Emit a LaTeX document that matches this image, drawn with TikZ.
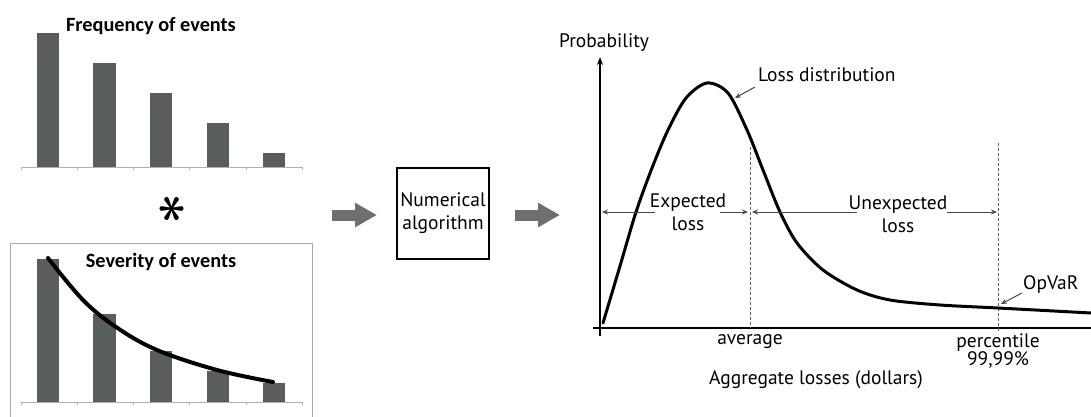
\documentclass[tikz,border=0pt]{standalone}
\usepackage{fontspec}
\usepackage{graphicx}
\setmainfont{PT Sans}
\newfontfamily\calib{Carlito}
\usetikzlibrary{arrows.meta}
\definecolor{barc}{HTML}{595D5D}
\definecolor{axl}{HTML}{B0B0B0}
\definecolor{frame}{HTML}{A8A8A8}
\definecolor{blk}{HTML}{6E6F71}
\definecolor{dim}{HTML}{3C4B52}
\definecolor{dsh}{HTML}{52646E}
\definecolor{salm}{HTML}{F0A898}
\tikzset{
  bar/.style={fill=barc, draw=none},
  lightaxis/.style={draw=axl, line width=0.9pt},
  blockarrow/.style={draw=blk, line width=11pt, -{Triangle[length=22pt,width=23pt]}},
  dimarrow/.style={draw=dim, line width=1pt, -{Stealth[length=6pt,width=5pt]}},
  dashline/.style={draw=dsh, line width=0.9pt, dash pattern=on 3pt off 2pt},
  lbl/.style={font=\fontsize{19.5}{23}\selectfont, inner sep=0pt, align=center},
  ttl/.style={font=\calib\bfseries\fontsize{20.3}{22}\selectfont, inner sep=0pt},
  callout/.style={draw=dim, line width=1pt, -{Stealth[length=6pt,width=5pt]}},
}
\begin{document}
\begin{tikzpicture}[x=1pt,y=-1pt]
\useasboundingbox (0,0) rectangle (1091,417);
% ---------- Frequency chart ----------
\fill[bar] (37,33) rectangle (59,167);
\fill[bar] (93,63) rectangle (116,167);
\fill[bar] (150,93) rectangle (172,167);
\fill[bar] (207,123) rectangle (229,167);
\fill[bar] (263,153) rectangle (285,167);
\draw[lightaxis] (21,167) -- (302,167);
\foreach \t in {21,77,133,189,246,302} \draw[lightaxis] (\t,167) -- (\t,170);
\node[ttl] (freq) at (151,26) {Frequency of events};
% ---------- asterisk ----------
\node[inner sep=0pt, rotate=90] (star) at (173,209) {\scalebox{5.4}{\boldmath$\ast$}};
% ---------- Severity chart ----------
\draw[draw=frame, line width=0.9pt] (10,417) -- (10,243) -- (312,243) -- (312,417);
\fill[bar] (37,259) rectangle (59,402);
\fill[bar] (93,314) rectangle (116,402);
\fill[bar] (150,351) rectangle (172,402);
\fill[bar] (207,371) rectangle (229,402);
\fill[bar] (263,383) rectangle (285,402);
\draw[lightaxis] (21,402) -- (302,402);
\foreach \t in {21,77,133,189,246,302} \draw[lightaxis] (\t,402) -- (\t,405);
\draw[black, line width=4pt, line cap=round] plot[smooth, tension=0.6] coordinates {(48,258) (83,300) (116,327) (157,350) (217,370) (273,382)};
\node[ttl] (sev) at (161,262) {Severity of events};
% ---------- middle ----------
\node[draw=black, line width=1.5pt, minimum width=92pt, minimum height=91pt, inner sep=0pt, lbl] (algo) at (443,213.5) {Numerical\\algorithm};
\coordinate (a1s) at (332,215);
\coordinate (a1e) at (377,215);
\coordinate (a2s) at (515,215);
\coordinate (a2e) at (560,215);
\draw[blockarrow] (a1s) -- (a1e);
\draw[blockarrow] (a2s) -- (a2e);
% ---------- Loss distribution chart ----------
\coordinate (O) at (600,328);
\coordinate (ytop) at (600,57);
\coordinate (ybot) at (600,336);
\coordinate (xl) at (593,328);
\coordinate (xr) at (1091,328);
\draw[salm, line width=2.6pt] (xl) -- (xr);
\draw[black, line width=1.6pt] (xl) -- (xr);
\draw[salm, line width=2.6pt] (ybot) -- (600,64);
\draw[black, line width=1.6pt, -{Stealth[length=8pt,width=6pt]}] (ybot) -- (ytop);
\node[lbl] (prob) at (604,43) {Probability};
% dashed lines
\coordinate (avgT) at (750,147);
\coordinate (avgB) at (750,328);
\coordinate (pctT) at (998,143);
\coordinate (pctB) at (998,331);
\draw[dashline] (avgT) -- (avgB);
\draw[dashline] (pctT) -- (pctB);
% curve
\draw[black, line width=3pt, line cap=round] plot[smooth, tension=0.5] coordinates {(603,323) (620,266) (636,212) (652,168) (668,130) (686,98) (707,83) (728,93) (747,130) (763,170) (780,212) (797,243) (823,270) (857,290) (890,300) (940,305) (998,308) (1091,313)};
% labels and arrows
\node[lbl] (exp) at (688,212) {Expected\\loss};
\node[lbl] (unexp) at (898,214) {Unexpected\\loss};
\coordinate (e1) at (655,212);
\coordinate (e1t) at (602,212);
\coordinate (e2) at (720,212);
\coordinate (e2t) at (748,212);
\coordinate (u1) at (857,212);
\coordinate (u1t) at (752,212);
\coordinate (u2) at (947,212);
\coordinate (u2t) at (997,212);
\draw[dimarrow] (e1) -- (e1t);
\draw[dimarrow] (e2) -- (e2t);
\draw[dimarrow] (u1) -- (u1t);
\draw[dimarrow] (u2) -- (u2t);
\node[lbl, anchor=west] (ld) at (758,75) {Loss distribution};
\coordinate (ldp) at (735,98);
\draw[callout] (755,87) -- (ldp);
\node[lbl, anchor=west] (opvar) at (1023,285) {OpVaR};
\coordinate (opp) at (1001,304);
\draw[callout] (1022,293) -- (opp);
\node[lbl] (avg) at (750,342) {average};
\node[lbl, font=\fontsize{19.5}{18}\selectfont] (pct) at (998,351) {percentile\\99,99\%};
\node[lbl] (agg) at (816,380) {Aggregate losses (dollars)};
\end{tikzpicture}
\end{document}
